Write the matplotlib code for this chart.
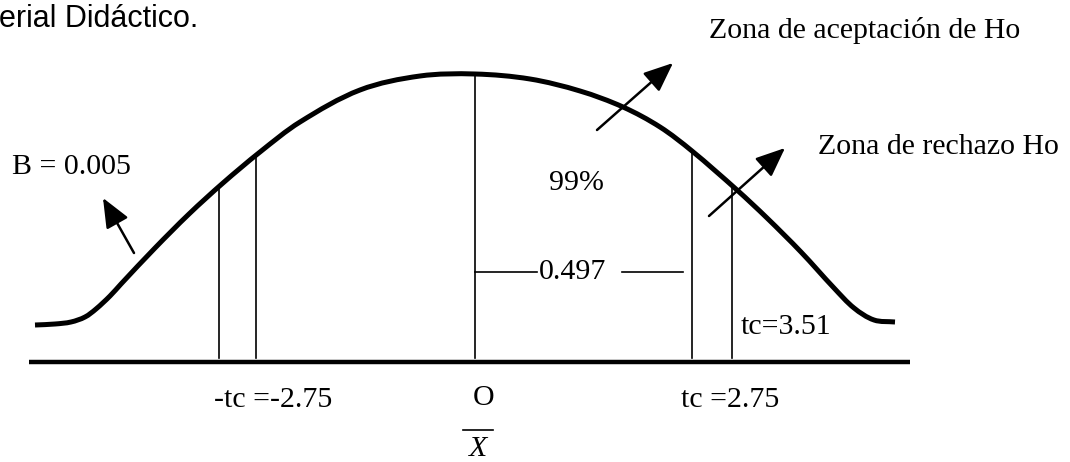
import matplotlib
matplotlib.use('Agg')

import matplotlib.pyplot as plt
from matplotlib.path import Path
from matplotlib.patches import PathPatch
import numpy as np

# === data, in picture units (x to the right, y downwards) ===
CURVE_X = [35, 55, 71, 85, 96, 110, 121, 155, 189, 223, 260, 300, 360, 420, 475,
           530, 580, 623, 660, 692, 737, 767, 801, 834, 854, 874, 895]
CURVE_Y = [325, 324, 322, 317, 309, 296, 284, 248, 214, 183, 152, 122, 90, 76, 74,
           79, 91, 107, 127, 151, 190, 218, 252, 288, 308, 320, 322]

BASE_Y = 362
BASE_X = (29, 910)
VLINES_X = [219, 256, 475, 692, 732]

# arrows: (tail, tip)
ARROWS = [((134, 253), (103, 198)),
          ((597, 130), (673, 63)),
          ((709, 216), (785, 148))]

LABELS = [
    ("B = 0.005", 12, 167),
    ("99%", 549, 183),
    ("0.497", 539, 272),
    ("tc=3.51", 741, 327),
    ("-tc =-2.75", 214, 400),
    ("tc =2.75", 681, 400),
    ("Zona de aceptación de Ho", 709, 30),
    ("Zona de rechazo Ho", 818, 147),
]

SERIF = ['Liberation Serif', 'DejaVu Serif']
FS = 21.5

fig = plt.figure(figsize=(10.7, 4.62), dpi=100)
ax = fig.add_axes([0, 0, 1, 1])
ax.set_xlim(0, 1070)
ax.set_ylim(462, 0)
ax.axis('off')

# bell curve, drawn as a smooth Bezier path through the read points
pts = np.column_stack([CURVE_X, CURVE_Y]).astype(float)
verts = [pts[0]]
codes = [Path.MOVETO]
for i in range(len(pts) - 1):
    p0 = pts[max(i - 1, 0)]
    p1 = pts[i]
    p2 = pts[i + 1]
    p3 = pts[min(i + 2, len(pts) - 1)]
    # tangent scaled to the segment length keeps uneven spacing smooth
    seg = np.linalg.norm(p2 - p1)
    t1 = (p2 - p0) / np.linalg.norm(p2 - p0)
    t2 = (p3 - p1) / np.linalg.norm(p3 - p1)
    verts += [p1 + t1 * seg / 3, p2 - t2 * seg / 3, p2]
    codes += [Path.CURVE4] * 3
ax.add_patch(PathPatch(Path(verts, codes), facecolor='none', edgecolor='black',
                       lw=3.6, capstyle='butt', joinstyle='round'))

# base line
ax.plot(BASE_X, [BASE_Y, BASE_Y], color='black', lw=3.2, solid_capstyle='butt')

# vertical lines up to the curve
for x in VLINES_X:
    top = np.interp(x, CURVE_X, CURVE_Y)
    ax.plot([x, x], [BASE_Y - 4, top], color='black', lw=1.2)

# 0.497 bracket
ax.plot([475, 537], [272, 272], color='black', lw=1.2)
ax.plot([622, 683], [272, 272], color='black', lw=1.2)

# arrows
for tail, tip in ARROWS:
    ax.annotate('', xy=tip, xytext=tail,
                arrowprops=dict(arrowstyle='-|>,head_length=0.9,head_width=0.38',
                                color='black', lw=1.8, shrinkA=0, shrinkB=0,
                                mutation_scale=20))

# labels
for txt, x, y in LABELS:
    ax.text(x, y, txt, family=SERIF, fontsize=FS, ha='left', va='center',
            color='black')

# O and X-bar under the center
ax.text(484, 398, "O", family=SERIF, fontsize=FS, ha='center', va='center')
ax.plot([463, 493], [430, 430], color='black', lw=1.2)
ax.text(478, 449, "X", family=SERIF, fontsize=FS, style='italic',
        ha='center', va='center')

# cut-off heading
ax.text(-1, 19, "erial Didáctico.", family=['Liberation Sans', 'DejaVu Sans'],
        fontsize=22, ha='left', va='center', color='black')

fig.savefig('out.png', dpi=100, facecolor='white')
plt.close(fig)
